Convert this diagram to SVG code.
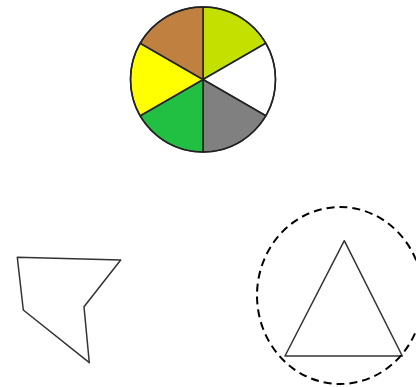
<svg xmlns="http://www.w3.org/2000/svg" width="416" height="387" viewBox="0 0 416 387">
<style>
.s{stroke:#222;stroke-width:1.5;stroke-linejoin:round}
.p{fill:none;stroke:#333;stroke-width:1.5;stroke-linejoin:round}
</style>
<rect width="416" height="387" fill="#fff"/>
<g id="pie">
<path class="s" fill="#C4E000" d="M203,79.5 L203,7 A72.5,72.5 0 0 1 265.79,43.25 Z"/>
<path class="s" fill="#FFFFFF" d="M203,79.5 L265.79,43.25 A72.5,72.5 0 0 1 265.79,115.75 Z"/>
<path class="s" fill="#808080" d="M203,79.5 L265.79,115.75 A72.5,72.5 0 0 1 203,152 Z"/>
<path class="s" fill="#21C043" d="M203,79.5 L203,152 A72.5,72.5 0 0 1 140.21,115.75 Z"/>
<path class="s" fill="#FFFF00" d="M203,79.5 L140.21,115.75 A72.5,72.5 0 0 1 140.21,43.25 Z"/>
<path class="s" fill="#C08040" d="M203,79.5 L140.21,43.25 A72.5,72.5 0 0 1 203,7 Z"/>
<circle cx="203" cy="79.5" r="72.5" fill="none" stroke="#222" stroke-width="1.5"/>
</g>
<g id="polygon">
<polygon class="p" points="17.3,257.3 120.7,260 84,306.7 89.3,362.7 23.3,310"/>
</g>
<g id="triangle">
<polygon class="p" points="344.3,240.7 402.3,356 285,356"/>
</g>
<g id="circle">
<ellipse cx="340" cy="295.5" rx="83" ry="88.5" fill="none" stroke="#000" stroke-width="2" stroke-dasharray="8,5"/>
</g>
</svg>
